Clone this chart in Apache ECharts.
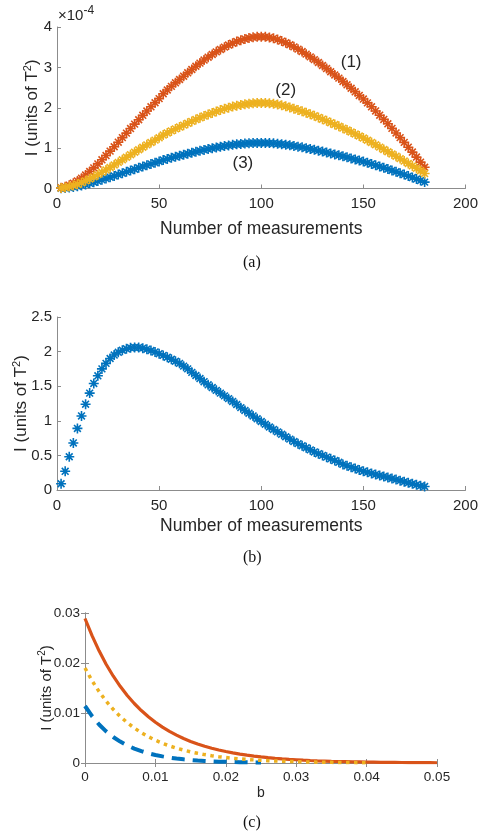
<!DOCTYPE html>
<html>
<head>
<meta charset="utf-8">
<script src="https://cdn.jsdelivr.net/npm/echarts@6/dist/echarts.min.js"></script>
<style>
  html, body { margin: 0; padding: 0; background: #fff; }
  #main { width: 481px; height: 840px; }
</style>
</head>
<body>
<div id="main"></div>
<script>
'use strict';

// number of measurements, shared by panels (a) and (b)
var nMeas = [2,4,6,8,10,12,14,16,18,20,22,24,26,28,30,32,34,36,38,40,
  42,44,46,48,50,52,54,56,58,60,62,64,66,68,70,72,74,76,78,80,
  82,84,86,88,90,92,94,96,98,100,102,104,106,108,110,112,114,116,118,120,
  122,124,126,128,130,132,134,136,138,140,142,144,146,148,150,152,154,156,158,160,
  162,164,166,168,170,172,174,176,178,180];

// panel (a), units of 1e-4
var curve1 = [0.019,0.045,0.083,0.132,0.188,0.256,0.335,0.421,0.511,0.609,
  0.711,0.816,0.925,1.034,1.147,1.26,1.372,1.485,1.594,1.703,
  1.812,1.918,2.023,2.124,2.226,2.346,2.44,2.53,2.617,2.7,
  2.782,2.865,2.948,3.027,3.106,3.181,3.252,3.32,3.384,3.444,
  3.501,3.553,3.598,3.64,3.674,3.704,3.726,3.745,3.756,3.76,
  3.756,3.741,3.719,3.689,3.651,3.61,3.561,3.508,3.452,3.392,
  3.328,3.26,3.192,3.121,3.046,2.97,2.891,2.812,2.734,2.651,
  2.568,2.482,2.395,2.305,2.215,2.121,2.023,1.921,1.816,1.711,
  1.602,1.489,1.376,1.26,1.143,1.023,0.902,0.778,0.654,0.526];
var curve2 = [0.011,0.025,0.047,0.074,0.106,0.144,0.189,0.237,0.288,0.343,
  0.401,0.46,0.522,0.583,0.647,0.71,0.774,0.837,0.899,0.96,
  1.022,1.081,1.141,1.198,1.255,1.323,1.376,1.427,1.476,1.522,
  1.569,1.615,1.662,1.707,1.751,1.794,1.834,1.872,1.908,1.942,
  1.974,2.003,2.029,2.052,2.071,2.088,2.101,2.112,2.118,2.12,
  2.118,2.109,2.097,2.08,2.059,2.035,2.008,1.978,1.946,1.912,
  1.876,1.838,1.8,1.76,1.717,1.675,1.63,1.586,1.541,1.495,
  1.448,1.399,1.35,1.3,1.249,1.196,1.141,1.083,1.024,0.965,
  0.91,0.855,0.8,0.74,0.68,0.62,0.56,0.5,0.44,0.37];
var curve3 = [0.006,0.014,0.025,0.04,0.057,0.077,0.1,0.127,0.154,0.183,
  0.214,0.245,0.278,0.311,0.345,0.379,0.412,0.446,0.479,0.512,
  0.545,0.576,0.608,0.638,0.669,0.705,0.733,0.76,0.786,0.811,
  0.836,0.861,0.886,0.91,0.933,0.956,0.977,0.998,1.017,1.035,
  1.052,1.068,1.081,1.094,1.104,1.113,1.12,1.125,1.129,1.13,
  1.129,1.124,1.118,1.109,1.097,1.085,1.07,1.054,1.037,1.019,
  1.0,0.98,0.959,0.938,0.915,0.893,0.869,0.845,0.822,0.797,
  0.772,0.746,0.72,0.693,0.666,0.637,0.608,0.577,0.546,0.514,
  0.481,0.447,0.414,0.379,0.344,0.307,0.271,0.234,0.197,0.158];

// panel (b)
var curveB = [0.09,0.27,0.48,0.68,0.89,1.07,1.24,1.40,1.54,1.65,
  1.75,1.83,1.90,1.95,1.99,2.02,2.04,2.055,2.06,2.06,
  2.05,2.035,2.015,1.995,1.97,1.945,1.918,1.89,1.86,1.83,
  1.79,1.75,1.70,1.655,1.61,1.565,1.52,1.48,1.44,1.40,
  1.36,1.32,1.28,1.235,1.19,1.15,1.11,1.07,1.03,0.99,
  0.95,0.91,0.875,0.84,0.805,0.77,0.735,0.70,0.67,0.64,
  0.61,0.58,0.55,0.525,0.50,0.475,0.45,0.425,0.40,0.37,
  0.35,0.33,0.31,0.29,0.27,0.255,0.24,0.225,0.21,0.195,
  0.18,0.165,0.15,0.135,0.12,0.105,0.09,0.075,0.06,0.05];

// panel (c)
var bVals = [0,0.001,0.002,0.003,0.004,0.005,0.006,0.007,0.008,0.009,
  0.010,0.011,0.012,0.013,0.014,0.015,0.016,0.017,0.018,0.019,
  0.020,0.021,0.022,0.023,0.024,0.025,0.026,0.027,0.028,0.029,
  0.030,0.031,0.032,0.033,0.034,0.035,0.036,0.037,0.038,0.039,
  0.040,0.041,0.042,0.043,0.044,0.045,0.046,0.047,0.048,0.049,0.050];
var solidC = [0.0289,0.02546,0.02243,0.01976,0.01741,0.01534,0.01351,0.0119,0.01049,0.00924,
  0.00814,0.00717,0.00632,0.00557,0.0049,0.00432,0.00381,0.00335,0.00295,0.0026,
  0.00229,0.00202,0.00178,0.00157,0.00138,0.00122,0.00107,0.00094,0.00083,0.00073,
  0.00065,0.00057,0.0005,0.00044,0.00039,0.00034,0.0003,0.00027,0.00023,0.00021,
  0.00018,0.00016,0.00014,0.00012,0.00011,0.0001,0.00008,0.00007,0.00006,0.00006,0.00005];
var dottedC = [0.0190,0.01647,0.01428,0.01238,0.01073,0.0093,0.00807,0.007,0.00606,0.00526,
  0.00456,0.00395,0.00343,0.00297,0.00258,0.00223,0.00194,0.00168,0.00146,0.00126,
  0.00109,0.00095,0.00082,0.00071,0.00062,0.00054,0.00047,0.0004,0.00035,0.0003,
  0.00026,0.00023,0.0002,0.00017,0.00015,0.00013,0.00011,0.0001,0.00008,0.00007,0.00006];
var dashedC = [0.0114,0.00937,0.0077,0.00633,0.0052,0.00428,0.00352,0.00289,0.00238,0.00195,
  0.0016,0.00132,0.00108,0.00089,0.00073,0.0006,0.00049,0.00041,0.00033,0.00027,
  0.00023,0.00019,0.00015,0.00013,0.0001,0.00009];

// curve tags in panel (a): text, x, y
var tagsA = [['(1)', 144, 3.12], ['(2)', 112, 2.43], ['(3)', 91, 0.63]];

var blue = '#0072BD', red = '#D95319', yellow = '#EDB120';
var textColor = '#262626', lineColor = '#8c8c8c';
var star = 'path://M5,0L5,10M0,5L10,5M1.6,1.6L8.4,8.4M1.6,8.4L8.4,1.6';

function pairs(xs, ys) {
  return ys.map(function (y, i) { return [xs[i], y]; });
}
function fmt(v) { return String(parseFloat(v.toFixed(4))); }

function xAx(grid, max, interval, name, fs, nfs, gap, margin) {
  return {
    type: 'value', gridIndex: grid, min: 0, max: max, interval: interval,
    name: name, nameLocation: 'middle', nameGap: gap, nameMoveOverlap: false,
    nameTextStyle: { color: textColor, fontSize: nfs, fontFamily: 'Liberation Sans' },
    axisLine: { lineStyle: { color: lineColor, width: 1 } },
    axisTick: { inside: true, length: 4, lineStyle: { color: lineColor } },
    splitLine: { show: false },
    axisLabel: { color: textColor, fontSize: fs, fontFamily: 'Liberation Sans', margin: margin, formatter: fmt }
  };
}
function yAx(grid, max, interval, fs, nfs, gap) {
  return {
    type: 'value', gridIndex: grid, min: 0, max: max, interval: interval,
    name: 'I (units of T{sup|2})', nameLocation: 'middle', nameGap: gap, nameRotate: 90,
    nameMoveOverlap: false,
    nameTextStyle: { color: textColor, fontSize: nfs, fontFamily: 'Liberation Sans',
      rich: { sup: { fontSize: Math.round(nfs * 0.65), fontFamily: 'Liberation Sans', color: textColor, padding: [0, 0, 9, 0] } } },
    axisLine: { show: true, lineStyle: { color: lineColor, width: 1 } },
    axisTick: { show: true, inside: true, length: 4, lineStyle: { color: lineColor } },
    splitLine: { show: false },
    axisLabel: { color: textColor, fontSize: fs, fontFamily: 'Liberation Sans', margin: 5, formatter: fmt }
  };
}

function stars(xi, yi, data, color, size) {
  return {
    type: 'scatter', xAxisIndex: xi, yAxisIndex: yi, data: data,
    symbol: star, symbolSize: size,
    itemStyle: { color: color, borderColor: color, borderWidth: 1.6, opacity: 1 },
    emphasis: { disabled: true }, silent: true
  };
}

var caption = { fontSize: 16, fontFamily: 'Liberation Serif', fill: '#111' };

var option = {
  animation: false,
  backgroundColor: '#fff',
  grid: [
    { left: 57, top: 27, width: 410, height: 161.5 },
    { left: 57, top: 317, width: 410, height: 173 },
    { left: 85, top: 613, width: 352, height: 150 }
  ],
  xAxis: [
    xAx(0, 200, 50, 'Number of measurements', 15, 17.5, 32, 8),
    xAx(1, 200, 50, 'Number of measurements', 15, 17.5, 27, 8),
    xAx(2, 0.05, 0.01, 'b', 13.5, 14, 23, 7),
    { type: 'value', gridIndex: 2, position: 'top', min: 0, max: 0.05, interval: 0.01,
      axisLine: { lineStyle: { color: lineColor } },
      axisTick: { inside: true, length: 4, lineStyle: { color: lineColor } },
      axisLabel: { show: false }, splitLine: { show: false } }
  ],
  yAxis: [
    yAx(0, 4, 1, 15, 17, 15),
    yAx(1, 2.5, 0.5, 15, 17, 26),
    yAx(2, 0.03, 0.01, 13.5, 15, 29),
    { type: 'value', gridIndex: 2, position: 'right', min: 0, max: 0.03, interval: 0.01,
      axisLine: { show: true, lineStyle: { color: lineColor } },
      axisTick: { show: true, inside: true, length: 4, lineStyle: { color: lineColor } },
      axisLabel: { show: false }, splitLine: { show: false } }
  ],
  series: [
    stars(0, 0, pairs(nMeas, curve3), blue, 10),
    stars(0, 0, pairs(nMeas, curve1), red, 10),
    stars(0, 0, pairs(nMeas, curve2), yellow, 10),
    { type: 'scatter', xAxisIndex: 0, yAxisIndex: 0, silent: true, z: 5,
      data: tagsA.map(function (t) { return { value: [t[1], t[2]], name: t[0] }; }),
      symbolSize: 1, itemStyle: { color: 'rgba(0,0,0,0)', opacity: 1 },
      label: { show: true, position: 'inside', formatter: '{b}', color: textColor, opacity: 1,
        textBorderWidth: 0, fontSize: 17, fontFamily: 'Liberation Sans' } },
    stars(1, 1, pairs(nMeas, curveB), blue, 10),
    { type: 'line', xAxisIndex: 2, yAxisIndex: 2, data: pairs(bVals, dashedC), showSymbol: false, silent: true,
      lineStyle: { color: blue, width: 4, type: [13, 8], cap: 'butt' } },
    { type: 'line', xAxisIndex: 2, yAxisIndex: 2, data: pairs(bVals, solidC), showSymbol: false, silent: true,
      lineStyle: { color: red, width: 3.2, type: 'solid' } },
    { type: 'line', xAxisIndex: 2, yAxisIndex: 2, data: pairs(bVals, dottedC), showSymbol: false, silent: true,
      lineStyle: { color: yellow, width: 3.5, type: [3.5, 4.5], cap: 'butt' } }
  ],
  graphic: [
    { type: 'text', left: 58, top: 5, style: { text: '×10{s|-4}', fontSize: 15, fontFamily: 'Liberation Sans', fill: textColor,
      rich: { s: { fontSize: 12, fontFamily: 'Liberation Sans', fill: textColor, padding: [0, 0, 10, 0] } } } },
    { type: 'text', left: 243, top: 255, style: Object.assign({ text: '(a)' }, caption) },
    { type: 'text', left: 243, top: 550, style: Object.assign({ text: '(b)' }, caption) },
    { type: 'text', left: 243, top: 815, style: Object.assign({ text: '(c)' }, caption) }
  ]
};

var chart = echarts.init(document.getElementById('main'));
chart.setOption(option);
</script>
</body>
</html>
